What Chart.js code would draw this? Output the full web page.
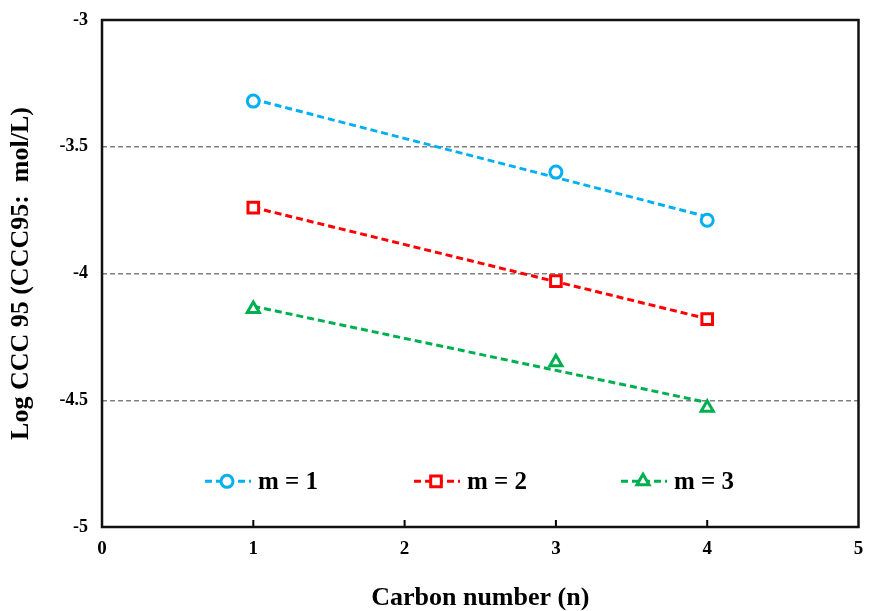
<!DOCTYPE html>
<html><head><meta charset="utf-8">
<script src="https://cdn.jsdelivr.net/npm/chart.js@4.4.0/dist/chart.umd.min.js"></script>
<style>html,body{margin:0;padding:0;background:#fff}#c{display:block}</style>
</head><body>
<canvas id="c" width="869" height="611"></canvas>
<script>
// ---- data ----
const carbonNumbers = [1, 3, 4];
const seriesNames = ['m = 1', 'm = 2', 'm = 3'];
const m1Values = [-3.32, -3.60, -3.79];
const m2Values = [-3.74, -4.03, -4.18];
const m3Values = [-4.14, -4.35, -4.53];
const xTickValues = [0, 1, 2, 3, 4, 5];
const yTickValues = [-3, -3.5, -4, -4.5, -5];
const yTickLabels = ['-3', '-3.5', '-4', '-4.5', '-5'];
const xAxisTitle = 'Carbon number (n)';
const yAxisTitle = 'Log CCC 95 (CCC95:  mol/L)';

const colors = ['#00B0F0', '#FF0000', '#00B050'];
const styles = ['circle', 'rect', 'triangle'];
const radii = [6, 7.5, 7];
const allSeries = [m1Values, m2Values, m3Values];
const serif = '"Liberation Serif", "Times New Roman", serif';

function linFit(xs, ys) {
  const n = xs.length;
  const mx = xs.reduce((a, b) => a + b, 0) / n;
  const my = ys.reduce((a, b) => a + b, 0) / n;
  let sxy = 0, sxx = 0;
  for (let i = 0; i < n; i++) { sxy += (xs[i] - mx) * (ys[i] - my); sxx += (xs[i] - mx) ** 2; }
  const b = sxy / sxx, a = my - b * mx;
  return x => a + b * x;
}

const datasets = [];
allSeries.forEach((vals, i) => {
  datasets.push({
    label: seriesNames[i],
    data: carbonNumbers.map((x, j) => ({x, y: vals[j]})),
    showLine: false,
    pointStyle: styles[i],
    pointRadius: radii[i],
    pointBorderWidth: 3,
    pointBorderColor: colors[i],
    pointBackgroundColor: '#ffffff',
    borderColor: colors[i],
    backgroundColor: '#ffffff'
  });
});
allSeries.forEach((vals, i) => {
  const f = linFit(carbonNumbers, vals);
  const x0 = Math.min(...carbonNumbers), x1 = Math.max(...carbonNumbers);
  datasets.push({
    label: seriesNames[i] + ' trend',
    data: [{x: x0, y: f(x0)}, {x: x1, y: f(x1)}],
    showLine: true,
    pointRadius: 0,
    borderColor: colors[i],
    borderWidth: 3,
    borderDash: [7, 4],
    fill: false
  });
});

function drawMarker(ctx, style, r, x, y, color) {
  ctx.save();
  ctx.lineWidth = 3;
  ctx.strokeStyle = color;
  ctx.fillStyle = '#fff';
  ctx.setLineDash([]);
  ctx.beginPath();
  if (style === 'circle') {
    ctx.arc(x, y, r, 0, Math.PI * 2);
  } else if (style === 'rect') {
    const s = r * Math.SQRT1_2;
    ctx.rect(x - s, y - s, 2 * s, 2 * s);
  } else {
    const h = Math.sqrt(3) / 2;
    ctx.moveTo(x, y - r);
    ctx.lineTo(x + r * h, y + r / 2);
    ctx.lineTo(x - r * h, y + r / 2);
    ctx.closePath();
  }
  ctx.fill();
  ctx.stroke();
  ctx.restore();
}

const framePlugin = {
  id: 'frame',
  afterDraw(chart) {
    const {ctx, chartArea: a, scales} = chart;
    ctx.save();
    ctx.strokeStyle = '#000';
    ctx.lineWidth = 2;
    xTickValues.slice(1, -1).forEach(v => {
      const px = scales.x.getPixelForValue(v);
      ctx.beginPath(); ctx.moveTo(px, a.bottom); ctx.lineTo(px, a.bottom - 7); ctx.stroke();
    });
    ctx.lineWidth = 2.5;
    ctx.strokeStyle = '#111';
    ctx.strokeRect(a.left, a.top, a.right - a.left, a.bottom - a.top);
    const ly = scales.y.getPixelForValue(-4.82);
    const items = [{x: 205}, {x: 414}, {x: 621}];
    items.forEach((it, i) => {
      ctx.strokeStyle = colors[i];
      ctx.lineWidth = 3;
      ctx.setLineDash([7, 4]);
      ctx.beginPath(); ctx.moveTo(it.x, ly); ctx.lineTo(it.x + 46, ly); ctx.stroke();
      ctx.setLineDash([]);
      drawMarker(ctx, styles[i], radii[i], it.x + 22, ly, colors[i]);
      ctx.fillStyle = '#000';
      ctx.font = 'bold 25px ' + serif;
      ctx.textBaseline = 'middle';
      ctx.textAlign = 'left';
      ctx.fillText(seriesNames[i], it.x + 53, ly + 1);
    });
    ctx.restore();
  }
};

new Chart(document.getElementById('c'), {
  type: 'scatter',
  data: {datasets},
  options: {
    responsive: false,
    animation: false,
    devicePixelRatio: 1,
    layout: {padding: {left: 8, top: 20, right: 9, bottom: 0}},
    plugins: {legend: {display: false}, tooltip: {enabled: false}},
    scales: {
      x: {
        type: 'linear', min: 0, max: 5,
        afterBuildTicks: s => { s.ticks = xTickValues.map(v => ({value: v})); },
        afterFit: s => { s.height = 84; s.paddingLeft = 0; s.paddingRight = 0; },
        grid: {display: false, drawTicks: false},
        border: {display: false},
        ticks: {padding: 11, color: '#000', font: {family: serif, size: 19, weight: 'bold'}},
        title: {display: true, text: xAxisTitle, color: '#000', padding: 0,
          font: {family: serif, size: 26, weight: 'bold', lineHeight: 1}}
      },
      y: {
        type: 'linear', min: -5, max: -3,
        afterBuildTicks: s => { s.ticks = yTickValues.map(v => ({value: v})); },
        afterFit: s => { s.width = 94; s.paddingTop = 0; s.paddingBottom = 0; },
        grid: {
          drawTicks: false,
          color: ctx => (ctx.tick && (ctx.tick.value === -3 || ctx.tick.value === -5)) ? 'rgba(0,0,0,0)' : '#808080',
          lineWidth: 1.5
        },
        border: {display: false, dash: [5, 3]},
        ticks: {
          padding: 14, color: '#000', font: {family: serif, size: 18, weight: 'bold'},
          callback: v => { const k = yTickValues.indexOf(v); return k >= 0 ? yTickLabels[k] : ''; }
        },
        title: {display: true, text: yAxisTitle, color: '#000', padding: 0,
          font: {family: serif, size: 26, weight: 'bold', lineHeight: 1}}
      }
    }
  },
  plugins: [framePlugin]
});
</script>
</body></html>
